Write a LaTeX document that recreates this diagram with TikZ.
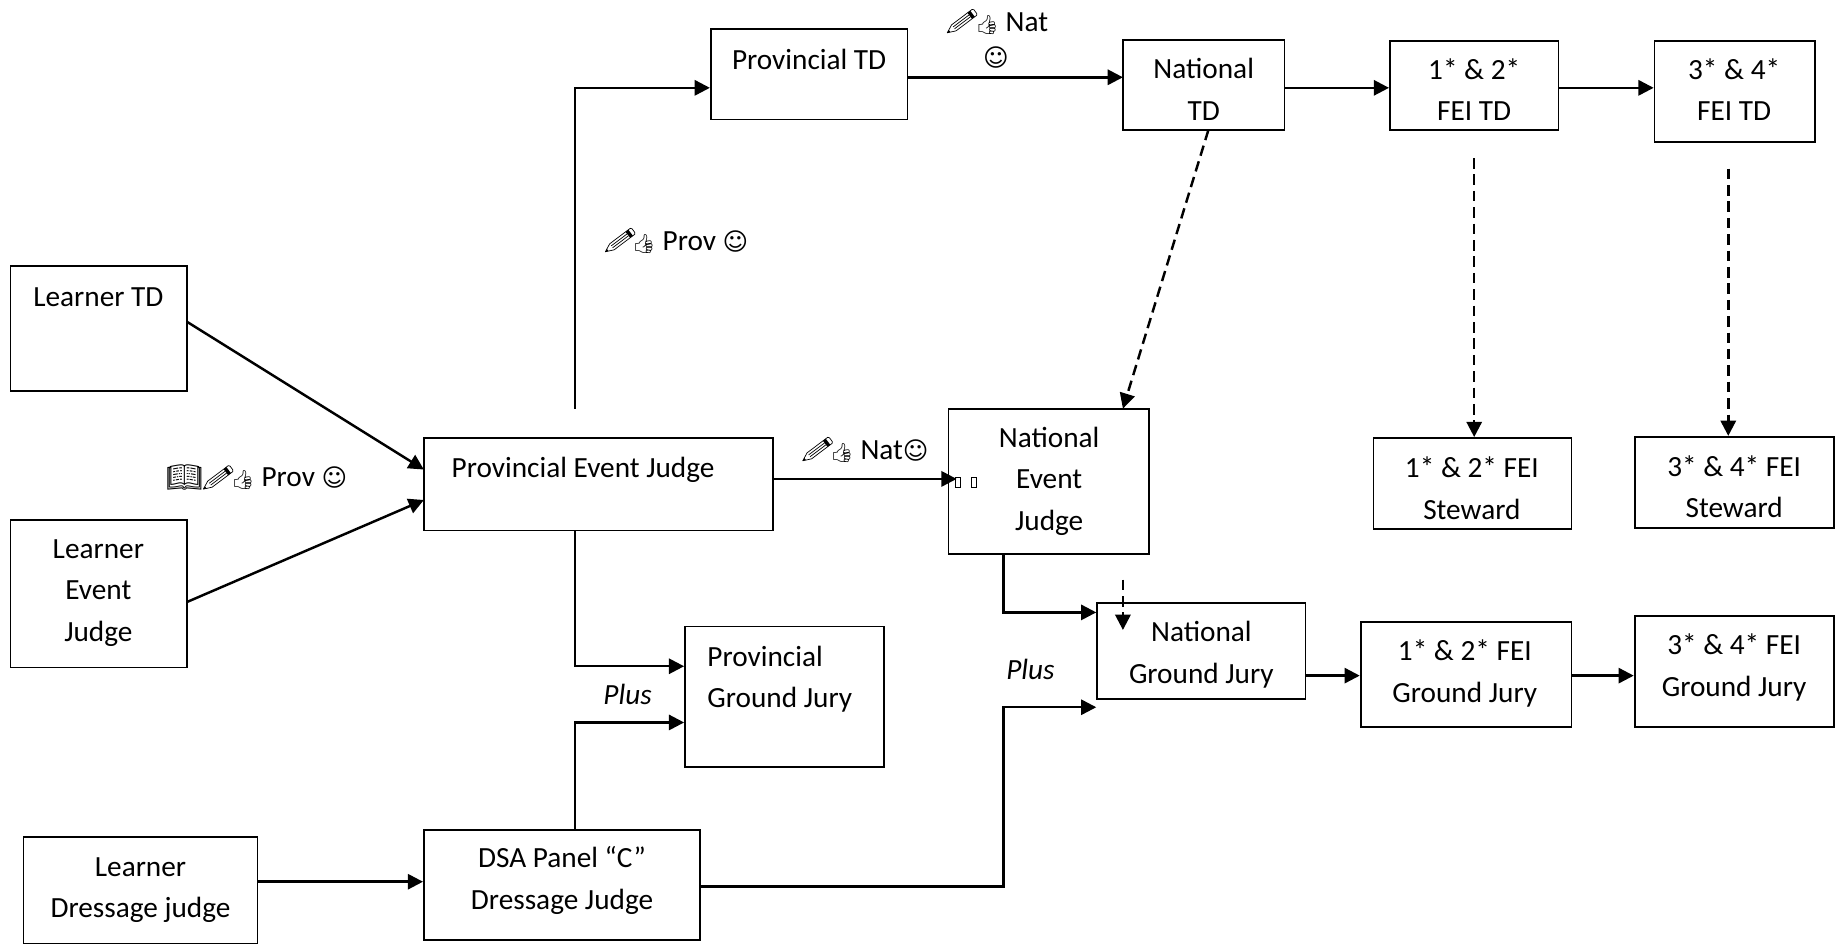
\documentclass[tikz,border=0pt]{standalone}
\usepackage{fontspec}
\usepackage{graphicx}
\setmainfont{Carlito}
\newfontfamily\djv{DejaVu Sans}
\newfontfamily\emo{Noto Emoji}
\usetikzlibrary{arrows.meta}
\newcommand{\icthumb}{{\emo\fontsize{16}{16}\selectfont 👍}}
\newcommand{\icsmile}{{\djv\fontsize{21}{21}\selectfont ☺}}
\newcommand{\icbook}{{\emo\fontsize{25}{25}\selectfont 📖}}
\tikzset{
  boxnode/.style={draw=black,line width=1.5pt,fill=none,inner sep=0pt,minimum width=#1},
  txt/.style={inner sep=0pt,align=center,font=\fontsize{25}{35.5}\selectfont},
  link/.style={draw=black,line width=2.1pt,-{Triangle[length=13pt,width=13pt]}},
  dashlink/.style={link,dash pattern=on 9pt off 5pt},
  tofu/.style={draw=black,line width=.7pt,minimum width=4pt,minimum height=9pt,inner sep=0pt},
  pencilline/.style={draw=black,line width=.6pt,line join=round}
}
\newcommand{\bx}[5]{% name, x0,y0,x1,y1
  \pgfmathsetmacro{\bxcx}{(#2+#4)/2}\pgfmathsetmacro{\bxcy}{(#3+#5)/2}
  \pgfmathsetmacro{\bxw}{#4-#2}\pgfmathsetmacro{\bxh}{#5-#3}
  \node[boxnode=\bxw pt,minimum height=\bxh pt] (#1) at (\bxcx,\bxcy) {};}
\newcommand{\pencilat}[2]{% tip x, tip y
  \begin{scope}[shift={(#1,#2)},rotate=37]
    \draw[pencilline] (0,0) -- (7,3.2) -- (29,3.2) -- (30,2) -- (30,-2) -- (29,-3.2) -- (7,-3.2) -- cycle;
    \draw[pencilline] (7,1) -- (24,1) (7,-1) -- (24,-1);
    \fill[black] (0,0) -- (2.5,1.1) -- (2.5,-1.1) -- cycle;
    \fill[black] (24,-3.2) rectangle (27,3.2);
  \end{scope}}
\begin{document}
\begin{tikzpicture}[x=1pt,y=-1pt]
\useasboundingbox (0,0) rectangle (1568,806.2);
\bx{ltd}{9}{227}{160}{334}
\bx{lej}{9}{444}{160}{570}
\bx{ldj}{20}{715}{220}{806}
\bx{pej}{362}{374}{660}{453}
\bx{dsa}{362}{709}{598}{803}
\bx{pgj}{585}{535}{755}{655}
\bx{ptd}{607}{25}{775}{102}
\bx{ntd}{959}{34}{1097}{111}
\bx{fa}{1187}{35}{1331}{111}
\bx{fb}{1413}{35}{1550}{121}
\bx{nej}{810}{349}{981}{473}
\bx{sa}{1173}{374}{1342}{452}
\bx{sb}{1396}{373}{1566}{451}
\bx{ngj}{937}{515}{1115}{597}
\bx{ga}{1162}{531}{1342}{621}
\bx{gb}{1396}{526}{1566}{621}

\node[txt] (tltd) at (84,254) {Learner TD};
\node[txt] (tlej) at (84,506.5) {Learner\\Event\\Judge};
\node[txt] (tldj) at (120,760) {Learner\\Dressage judge};
\node[txt] (tpej) at (498,401) {Provincial Event Judge};
\node[txt] (tdsa) at (480,752) {DSA Panel “C”\\Dressage Judge};
\node[txt,align=left,anchor=west] (tpgj) at (604,580) {Provincial\\Ground Jury};
\node[txt] (tptd) at (691,51) {Provincial TD};
\node[txt] (tntd) at (1028,76.5) {National\\TD};
\node[txt] (tfa) at (1259,76.5) {1* \& 2*\\FEI TD};
\node[txt] (tfb) at (1481,76.5) {3* \& 4*\\FEI TD};
\node[txt] (tnej) at (896,411) {National\\Event\\Judge};
\node[txt] (tsa) at (1257,417) {1* \& 2* FEI\\Steward};
\node[txt] (tsb) at (1481,415.5) {3* \& 4* FEI\\Steward};
\node[txt] (tngj) at (1026,559) {National\\Ground Jury};
\node[txt] (tga) at (1251,575) {1* \& 2* FEI\\Ground Jury};
\node[txt] (tgb) at (1481,570) {3* \& 4* FEI\\Ground Jury};
\node[txt] (plusa) at (536,593) {\itshape Plus};
\node[txt] (plusb) at (880,572) {\itshape Plus};
\node[txt] (lnat) at (864,20.5) {\icthumb\ Nat};
\node[txt] (lnats) at (850.5,49) {\icsmile};
\node[txt] (lprov) at (589.5,207) {\icthumb\ Prov \icsmile};
\node[txt] (lbook) at (157.5,408) {\icbook};
\node[txt] (lprovb) at (247,408) {\icthumb\ Prov \icsmile};
\node[txt] (lnat2) at (751,385) {\icthumb\ Nat\icsmile};
\node[tofu] (tofua) at (818,412) {};
\node[tofu] (tofub) at (832,412) {};
\pencilat{809}{28}
\pencilat{517}{215}
\pencilat{685.6}{393.5}
\pencilat{173.7}{417.7}

\coordinate (a1) at (160,275);
\coordinate (a2) at (362,401);
\coordinate (b1) at (160,514);
\coordinate (b2) at (362,427);
\coordinate (c1) at (491,349);
\coordinate (d1) at (775,66);
\coordinate (d2) at (959,66);
\coordinate (e1) at (1032,111);
\coordinate (e2) at (959,349);
\coordinate (f1) at (1259,135);
\coordinate (g1) at (1476,144);
\coordinate (h1) at (660,409);
\coordinate (h2) at (817,409);
\coordinate (i1) at (491,569);
\coordinate (i2) at (491,617);
\coordinate (j1) at (857,604);
\coordinate (j2) at (857,523);
\coordinate (k1) at (959,495);
\coordinate (k2) at (959,538);
\coordinate (m1) at (0,577);

\draw[link] (a1) -- (a2);
\draw[link] (b1) -- (b2);
\draw[link] (c1) -- (491,75) -- (ptd.west |- 0,75);
\draw[link] (d1) -- (d2);
\draw[link] (ntd.east |- 0,75) -- (fa.west |- 0,75);
\draw[link] (fa.east |- 0,75) -- (fb.west |- 0,75);
\draw[dashlink] (e1) -- (e2);
\draw[dashlink] (f1) -- (f1 |- sa.north);
\draw[dashlink] (g1) -- (g1 |- sb.north);
\draw[link] (h1) -- (h2);
\draw[link] (pej.south -| i1) -- (i1) -- (pgj.west |- i1);
\draw[link] (dsa.north -| i2) -- (i2) -- (pgj.west |- i2);
\draw[link] (ldj.east |- 0,753) -- (dsa.west |- 0,753);
\draw[link] (dsa.east |- 0,757) -- (j1 |- 0,757) -- (j1) -- (ngj.west |- j1);
\draw[link] (nej.south -| j2) -- (j2) -- (ngj.west |- j2);
\draw[dashlink] (k1) -- (k2);
\draw[link] (ngj.east |- m1) -- (ga.west |- m1);
\draw[link] (ga.east |- m1) -- (gb.west |- m1);
\end{tikzpicture}
\end{document}
